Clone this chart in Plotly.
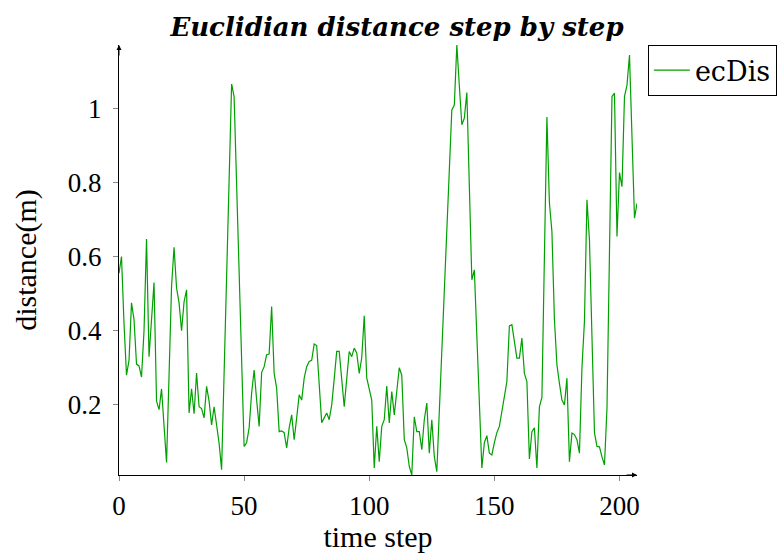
import plotly.graph_objects as go

distance = [
    0.555, 0.60, 0.42, 0.28, 0.32, 0.475, 0.43, 0.31, 0.305, 0.275,
    0.40, 0.647, 0.33, 0.42, 0.53, 0.21, 0.187, 0.243, 0.133, 0.045,
    0.28, 0.52, 0.625, 0.515, 0.475, 0.40, 0.478, 0.51, 0.178, 0.243,
    0.176, 0.286, 0.195, 0.19, 0.165, 0.25, 0.21, 0.146, 0.195, 0.14,
    0.097, 0.025, 0.29, 0.55, 0.80, 1.065, 1.03, 0.78, 0.55, 0.32,
    0.088, 0.098, 0.138, 0.232, 0.294, 0.213, 0.142, 0.287, 0.303, 0.335,
    0.337, 0.465, 0.285, 0.245, 0.128, 0.13, 0.125, 0.084, 0.138, 0.173,
    0.106, 0.165, 0.227, 0.213, 0.272, 0.303, 0.317, 0.32, 0.364, 0.36,
    0.26, 0.152, 0.165, 0.178, 0.16, 0.2, 0.27, 0.344, 0.344, 0.26,
    0.195, 0.27, 0.344, 0.33, 0.353, 0.34, 0.285, 0.327, 0.44, 0.273,
    0.246, 0.213, 0.03, 0.142, 0.047, 0.142, 0.16, 0.251, 0.151, 0.236,
    0.173, 0.246, 0.30, 0.28, 0.106, 0.084, 0.034, 0.011, 0.168, 0.128,
    0.128, 0.079, 0.16, 0.205, 0.07, 0.16, 0.061, 0.02, 0.18, 0.34,
    0.50, 0.67, 0.83, 0.995, 1.008, 1.17, 1.06, 0.955, 0.973, 1.042,
    0.79, 0.537, 0.564, 0.39, 0.21, 0.03, 0.098, 0.117, 0.07, 0.065,
    0.098, 0.125, 0.142, 0.178, 0.222, 0.263, 0.413, 0.416, 0.37, 0.326,
    0.326, 0.38, 0.285, 0.263, 0.054, 0.128, 0.138, 0.03, 0.195, 0.22,
    0.6, 0.976, 0.745, 0.667, 0.43, 0.308, 0.258, 0.213, 0.2, 0.272,
    0.047, 0.124, 0.12, 0.106, 0.07, 0.3, 0.425, 0.753, 0.645, 0.38,
    0.125, 0.088, 0.087, 0.06, 0.038, 0.19, 0.62, 1.031, 1.04, 0.654,
    0.826, 0.788, 1.031, 1.062, 1.143, 0.92, 0.703, 0.743,
]
steps = list(range(len(distance)))

x_ticks = [0, 50, 100, 150, 200]
y_ticks = [0.2, 0.4, 0.6, 0.8, 1.0]
y_tick_labels = ["0.2", "0.4", "0.6", "0.8", "1"]

serif = "Liberation Serif, DejaVu Serif, serif"
wide_serif = "DejaVu Serif, Liberation Serif, serif"

fig = go.Figure()
fig.add_trace(go.Scatter(
    x=steps, y=distance, mode="lines", name="ecDis",
    line=dict(color="#00a000", width=1.2),
))

fig.update_layout(
    width=783, height=553,
    margin=dict(l=119, r=146, t=45, b=78, autoexpand=False),
    paper_bgcolor="white", plot_bgcolor="white",
    font=dict(family=serif, color="black", size=26),
    title=dict(
        text="<b><i>Euclidian distance step by step</i></b>",
        x=0.507, xanchor="center", y=0.952, yanchor="middle",
        font=dict(family=wide_serif, size=26, color="black"),
        automargin=False,
    ),
    showlegend=True,
    legend=dict(
        x=1.021, y=1.0, xanchor="left", yanchor="top",
        bordercolor="black", borderwidth=1, bgcolor="white",
        font=dict(family=wide_serif, size=27, color="black"),
        itemwidth=36, tracegroupgap=0,
    ),
    xaxis=dict(
        range=[0, max(steps)], showgrid=False, zeroline=False,
        showline=True, linecolor="black", linewidth=1,
        tickmode="array", tickvals=x_ticks,
        ticks="outside", ticklen=5, tickcolor="#888888",
        ticklabelstandoff=2, automargin=False,
        tickfont=dict(family=serif, size=27),
        title=dict(text="time step", font=dict(family=serif, size=30), standoff=3),
    ),
    yaxis=dict(
        range=[min(distance), max(distance)], showgrid=False, zeroline=False,
        showline=True, linecolor="black", linewidth=1,
        tickmode="array", tickvals=y_ticks, ticktext=y_tick_labels,
        ticks="outside", ticklen=5, tickcolor="#888888",
        ticklabelstandoff=6, automargin=False,
        tickfont=dict(family=serif, size=27),
        title=dict(text="distance(m)", font=dict(family=serif, size=30), standoff=22),
    ),
)

# axis arrow heads
fig.add_annotation(x=0, y=1, xref="paper", yref="paper", text="", showarrow=True,
                   arrowhead=2, arrowsize=1, arrowwidth=1, arrowcolor="black",
                   ax=0, ay=12)
fig.add_annotation(x=1, y=0, xref="paper", yref="paper", text="", showarrow=True,
                   arrowhead=2, arrowsize=1, arrowwidth=1, arrowcolor="black",
                   ax=-12, ay=0)

fig.write_html("out.html")
